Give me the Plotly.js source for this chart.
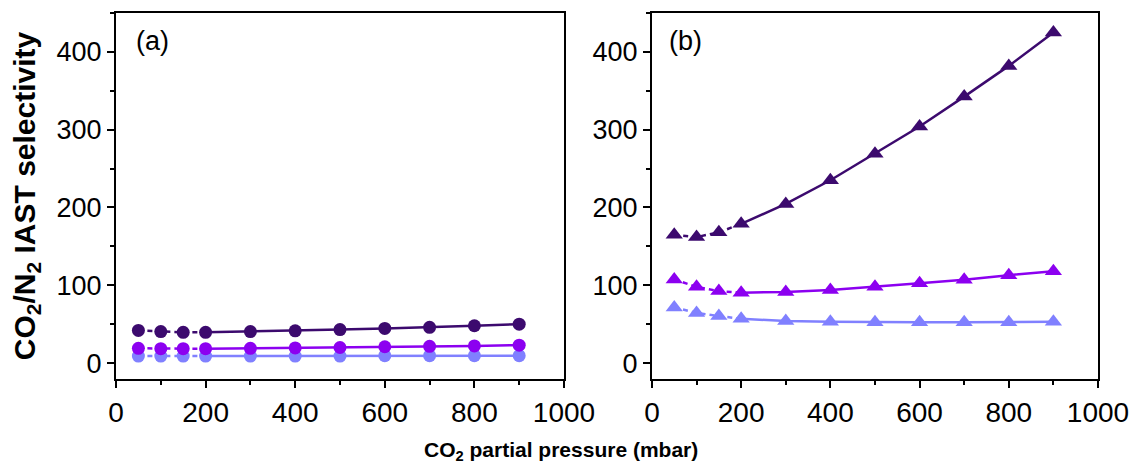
<!DOCTYPE html>
<html>
<head>
<meta charset="utf-8">
<script src="https://cdn.plot.ly/plotly-3.0.1.min.js"></script>
<style>html,body{margin:0;padding:0;background:#fff;}#chart{width:1135px;height:467px;}</style>
</head>
<body>
<div id="chart"></div>
<script>
const pressure = [50, 100, 150, 200, 300, 400, 500, 600, 700, 800, 900];
const aDark  = [42, 40.5, 39.5, 39.5, 40.5, 41.5, 43, 44.5, 46, 48, 50];
const aMid   = [19, 18.5, 18.5, 18.5, 19, 19.5, 20, 21, 21.5, 22, 23];
const aLight = [9, 9, 9, 9, 9, 9, 9, 9.5, 9.5, 9.5, 9.5];
const bDark  = [165, 162, 168, 179, 204.5, 235, 269, 304, 342.5, 382, 425];
const bMid   = [107.5, 98, 92.5, 90.5, 91.5, 94, 98, 102.5, 107, 113, 118];
const bLight = [71.5, 64.5, 60.5, 57, 54, 53, 52.5, 52.5, 52.5, 52.5, 53];
const xTicks = [0, 200, 400, 600, 800, 1000];
const yTicks = [0, 100, 200, 300, 400];

const cDark = 'rgb(60,10,110)', cMid = 'rgb(140,0,240)', cLight = 'rgb(128,128,255)';

function series(y, color, symbol, size, xa, ya) {
  const n = 4;
  return [
    {x: pressure.slice(0, n), y: y.slice(0, n), xaxis: xa, yaxis: ya, type: 'scatter', mode: 'lines',
     line: {color: color, width: 2.5, dash: '5px,4px'}, hoverinfo: 'skip', showlegend: false},
    {x: pressure.slice(n - 1), y: y.slice(n - 1), xaxis: xa, yaxis: ya, type: 'scatter', mode: 'lines',
     line: {color: color, width: 2.5}, hoverinfo: 'skip', showlegend: false},
    {x: pressure, y: y, xaxis: xa, yaxis: ya, type: 'scatter', mode: 'markers',
     marker: {color: color, symbol: symbol, size: size}, showlegend: false}
  ];
}

const data = [].concat(
  series(aLight, cLight, 'circle', 13, 'x', 'y'),
  series(aMid, cMid, 'circle', 13, 'x', 'y'),
  series(aDark, cDark, 'circle', 13, 'x', 'y'),
  series(bLight, cLight, 'triangle-up', 15, 'x2', 'y2'),
  series(bMid, cMid, 'triangle-up', 15, 'x2', 'y2'),
  series(bDark, cDark, 'triangle-up', 15, 'x2', 'y2')
);

const sans = 'Liberation Sans, Arial, sans-serif';
function xax(domain, anchor) {
  return {domain: domain, anchor: anchor, range: [0, 1000], tickvals: xTicks, ticktext: xTicks.map(String),
    showline: true, mirror: true, linecolor: '#000', linewidth: 2, ticks: 'outside', ticklen: 7, tickwidth: 2,
    tickcolor: '#000', showgrid: false, zeroline: false, tickfont: {family: sans, size: 28, color: '#000'},
    minor: {dtick: 100, tick0: 0, ticks: 'outside', ticklen: 4, tickwidth: 2, tickcolor: '#000', showgrid: false},
    automargin: false, fixedrange: true};
}
function yax(anchor, title) {
  const a = {domain: [0.1884, 0.9722], anchor: anchor, range: [-20.5, 450], tickvals: yTicks, ticktext: yTicks.map(String),
    showline: true, mirror: true, linecolor: '#000', linewidth: 2, ticks: 'outside', ticklen: 7, tickwidth: 2,
    tickcolor: '#000', showgrid: false, zeroline: false, tickfont: {family: sans, size: 27, color: '#000'},
    minor: {dtick: 50, tick0: 0, ticks: 'outside', ticklen: 4, tickwidth: 2, tickcolor: '#000', showgrid: false},
    automargin: false, fixedrange: true};
  if (title) a.title = {text: title, font: {family: sans, size: 30, color: '#000', weight: 'bold'}, standoff: 12};
  return a;
}

const layout = {
  width: 1135, height: 467,
  margin: {l: 0, r: 0, t: 0, b: 0},
  paper_bgcolor: '#fff', plot_bgcolor: '#fff',
  font: {family: sans, color: '#000'},
  showlegend: false,
  xaxis: xax([0.1022, 0.4969], 'y'),
  yaxis: yax('x', '<b>CO<sub>2</sub>/N<sub>2</sub> IAST selectivity</b>'),
  xaxis2: xax([0.5744, 0.9674], 'y2'),
  yaxis2: yax('x2', null),
  annotations: [
    {text: '<b>CO<sub>2</sub> partial pressure (mbar)</b>', xref: 'paper', yref: 'paper', x: 0.494, y: 1 - 451/467,
     xanchor: 'center', yanchor: 'middle', showarrow: false, font: {family: sans, size: 21, color: '#000'}},
    {text: '(a)', xref: 'paper', yref: 'paper', x: 134/1135, y: 1 - 41/467, xanchor: 'left', yanchor: 'middle',
     showarrow: false, font: {family: sans, size: 27, color: '#000'}},
    {text: '(b)', xref: 'paper', yref: 'paper', x: 667/1135, y: 1 - 41/467, xanchor: 'left', yanchor: 'middle',
     showarrow: false, font: {family: sans, size: 27, color: '#000'}}
  ]
};

Plotly.newPlot('chart', data, layout, {displayModeBar: false, staticPlot: true});
</script>
</body>
</html>
